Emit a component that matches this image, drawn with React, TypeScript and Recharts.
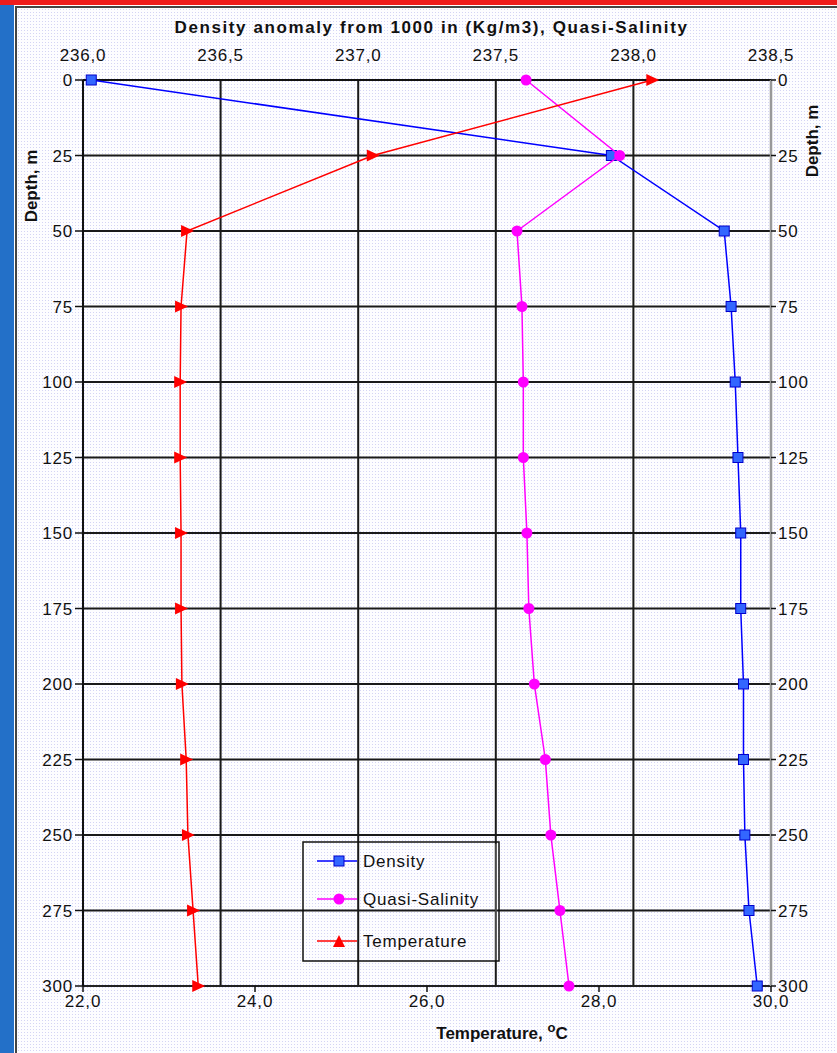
import { CartesianGrid, Scatter, ScatterChart, XAxis, YAxis } from 'recharts';

// Profile values, one entry per depth step
const depths = [0, 25, 50, 75, 100, 125, 150, 175, 200, 225, 250, 275, 300];
const density = [236.03, 237.92, 238.33, 238.355, 238.37, 238.38, 238.39, 238.39, 238.4, 238.4, 238.405, 238.42, 238.45];
const quasiSalinity = [237.61, 237.95, 237.577, 237.595, 237.6, 237.6, 237.613, 237.62, 237.64, 237.68, 237.7, 237.733, 237.766];
const temperature = [28.62, 25.37, 23.21, 23.14, 23.13, 23.13, 23.14, 23.14, 23.15, 23.2, 23.22, 23.28, 23.34];

const densityTicks = [236, 236.5, 237, 237.5, 238, 238.5];
const temperatureTicks = [22, 24, 26, 28, 30];
const depthTicks = [0, 25, 50, 75, 100, 125, 150, 175, 200, 225, 250, 275, 300];

const toPoints = (values: number[]) => values.map((x, i) => ({ x, depth: depths[i] }));

const commaFormat = (v: number) => v.toFixed(1).replace('.', ',');

const font = '"Liberation Sans", Arial, sans-serif';
const tickStyle = { fill: '#111', fontSize: 17, fontFamily: font, letterSpacing: 0.8 } as const;

const COLORS = {
  density: '#0000ff',
  densityFill: '#3366ff',
  salinity: '#ff00ff',
  temperature: '#ff0000',
};

function SquareDot(props: any) {
  const { cx, cy } = props;
  return <rect x={cx - 5} y={cy - 5} width={10} height={10} fill={COLORS.densityFill} stroke="#0000cc" strokeWidth={1} />;
}

function RoundDot(props: any) {
  const { cx, cy } = props;
  return <circle cx={cx} cy={cy} r={5.5} fill={COLORS.salinity} />;
}

function ArrowDot(props: any) {
  const { cx, cy } = props;
  return <polygon points={`${cx - 6},${cy - 6} ${cx + 7},${cy} ${cx - 6},${cy + 6}`} fill={COLORS.temperature} />;
}

const NoDot = () => <g />;

const legendItems = [
  { name: 'Density', color: COLORS.density, marker: 'square' },
  { name: 'Quasi-Salinity', color: COLORS.salinity, marker: 'circle' },
  { name: 'Temperature', color: COLORS.temperature, marker: 'triangle' },
];

// drawn over the plot, not through Recharts' Legend (it would reserve space)
function LegendBox() {
  const rows = [20, 58, 100];
  return (
    <svg width={198} height={121} style={{ display: 'block' }}>
      <rect x={1} y={1} width={196} height={119} fill="none" stroke="#111" strokeWidth={1.5} />
      <line x1={194} y1={3} x2={194} y2={119} stroke="#777" strokeWidth={1} />
      {legendItems.map((item, i) => {
        const y = rows[i];
        return (
          <g key={item.name}>
            <line x1={15} y1={y} x2={55} y2={y} stroke={item.color} strokeWidth={1.5} />
            {item.marker === 'square' && (
              <rect x={32} y={y - 5} width={10} height={10} fill={COLORS.densityFill} stroke="#0000cc" />
            )}
            {item.marker === 'circle' && <circle cx={37} cy={y} r={5.5} fill={COLORS.salinity} />}
            {item.marker === 'triangle' && (
              <polygon points={`${31},${y + 6} ${37},${y - 6} ${43},${y + 6}`} fill={COLORS.temperature} />
            )}
            <text x={61} y={y + 6} fontSize={17} fontFamily={font} fill="#111" letterSpacing={0.8}>
              {item.name}
            </text>
          </g>
        );
      })}
    </svg>
  );
}

const labelStyle = {
  position: 'absolute',
  fontFamily: font,
  fontWeight: 700,
  fontSize: 17,
  color: '#111',
  whiteSpace: 'nowrap',
} as const;

export default function App() {
  return (
    <div style={{ position: 'relative', width: 837, height: 1053, background: '#fff', overflow: 'hidden' }}>
      <style>{'body{margin:0}'}</style>
      {/* frame: red band on top, blue band on the left */}
      <div style={{ position: 'absolute', left: 0, top: 5, width: 14, height: 1048, background: '#2370c8' }} />
      <div style={{ position: 'absolute', left: 0, top: 0, width: 837, height: 5, background: '#ee1c1c' }} />
      <div
        style={{
          position: 'absolute',
          left: 15,
          top: 6,
          width: 822,
          height: 1047,
          borderLeft: '2px solid #444',
          borderTop: '2px solid #444',
          backgroundColor: '#fdfdff',
          backgroundImage: 'radial-gradient(circle, #d4d4f4 0.8px, transparent 1px)',
          backgroundSize: '3px 3px',
        }}
      />

      <div style={{ ...labelStyle, left: 0, top: 18, width: 837, textAlign: 'center', letterSpacing: 1.6, paddingLeft: 26, boxSizing: 'border-box' }}>
        Density anomaly from 1000 in (Kg/m3), Quasi-Salinity
      </div>

      <div style={{ position: 'absolute', left: 0, top: 0 }}>
        <ScatterChart width={837} height={1053} margin={{ top: 50, right: 16, bottom: 37, left: 23 }}>
          <CartesianGrid xAxisId="density" yAxisId="left" stroke="#1a1a1a" strokeWidth={2} />
          <XAxis
            xAxisId="density"
            orientation="top"
            type="number"
            dataKey="x"
            domain={[236, 238.5]}
            ticks={densityTicks}
            tickFormatter={commaFormat}
            tick={tickStyle}
            tickLine={false}
            tickMargin={13}
            axisLine={{ stroke: '#111', strokeWidth: 2 }}
            height={30}
            allowDataOverflow
          />
          <XAxis
            xAxisId="temp"
            orientation="bottom"
            type="number"
            dataKey="x"
            domain={[22, 30]}
            ticks={temperatureTicks}
            tickFormatter={commaFormat}
            tick={tickStyle}
            tickLine={{ stroke: '#111', strokeWidth: 1.5 }}
            tickSize={6}
            tickMargin={3}
            axisLine={{ stroke: '#222', strokeWidth: 2 }}
            height={30}
            allowDataOverflow
          />
          <YAxis
            yAxisId="left"
            orientation="left"
            type="number"
            dataKey="depth"
            domain={[0, 300]}
            reversed
            ticks={depthTicks}
            tick={tickStyle}
            tickLine={{ stroke: '#111', strokeWidth: 1.5 }}
            tickSize={8}
            tickMargin={2}
            axisLine={{ stroke: '#111', strokeWidth: 2 }}
            width={60}
          />
          <YAxis
            yAxisId="right"
            orientation="right"
            type="number"
            dataKey="depth"
            domain={[0, 300]}
            reversed
            ticks={depthTicks}
            tick={tickStyle}
            tickLine={{ stroke: '#111', strokeWidth: 1.5 }}
            tickSize={5}
            tickMargin={2}
            axisLine={{ stroke: '#999', strokeWidth: 2.5 }}
            width={50}
          />
          {/* invisible twin of the density series so the right depth axis gets its ticks */}
          <Scatter
            data={toPoints(density)}
            xAxisId="density"
            yAxisId="right"
            shape={NoDot}
            legendType="none"
            isAnimationActive={false}
          />
          <Scatter
            name="Density"
            data={toPoints(density)}
            xAxisId="density"
            yAxisId="left"
            line={{ stroke: COLORS.density, strokeWidth: 1.5 }}
            lineType="joint"
            shape={SquareDot}
            isAnimationActive={false}
          />
          <Scatter
            name="Quasi-Salinity"
            data={toPoints(quasiSalinity)}
            xAxisId="density"
            yAxisId="left"
            line={{ stroke: COLORS.salinity, strokeWidth: 1.5 }}
            lineType="joint"
            shape={RoundDot}
            isAnimationActive={false}
          />
          <Scatter
            name="Temperature"
            data={toPoints(temperature)}
            xAxisId="temp"
            yAxisId="left"
            line={{ stroke: COLORS.temperature, strokeWidth: 1.5 }}
            lineType="joint"
            shape={ArrowDot}
            isAnimationActive={false}
          />
        </ScatterChart>
      </div>

      <div style={{ position: 'absolute', left: 302, top: 841 }}>
        <LegendBox />
      </div>

      <div style={{ ...labelStyle, left: 32, top: 186, transform: 'translate(-50%, -50%) rotate(-90deg)' }}>Depth, m</div>
      <div style={{ ...labelStyle, left: 813, top: 141, transform: 'translate(-50%, -50%) rotate(-90deg)' }}>Depth, m</div>
      <div style={{ ...labelStyle, left: 502, top: 1032, transform: 'translate(-50%, -50%)' }}>
        Temperature, <sup style={{ fontSize: 13 }}>o</sup>C
      </div>
    </div>
  );
}
